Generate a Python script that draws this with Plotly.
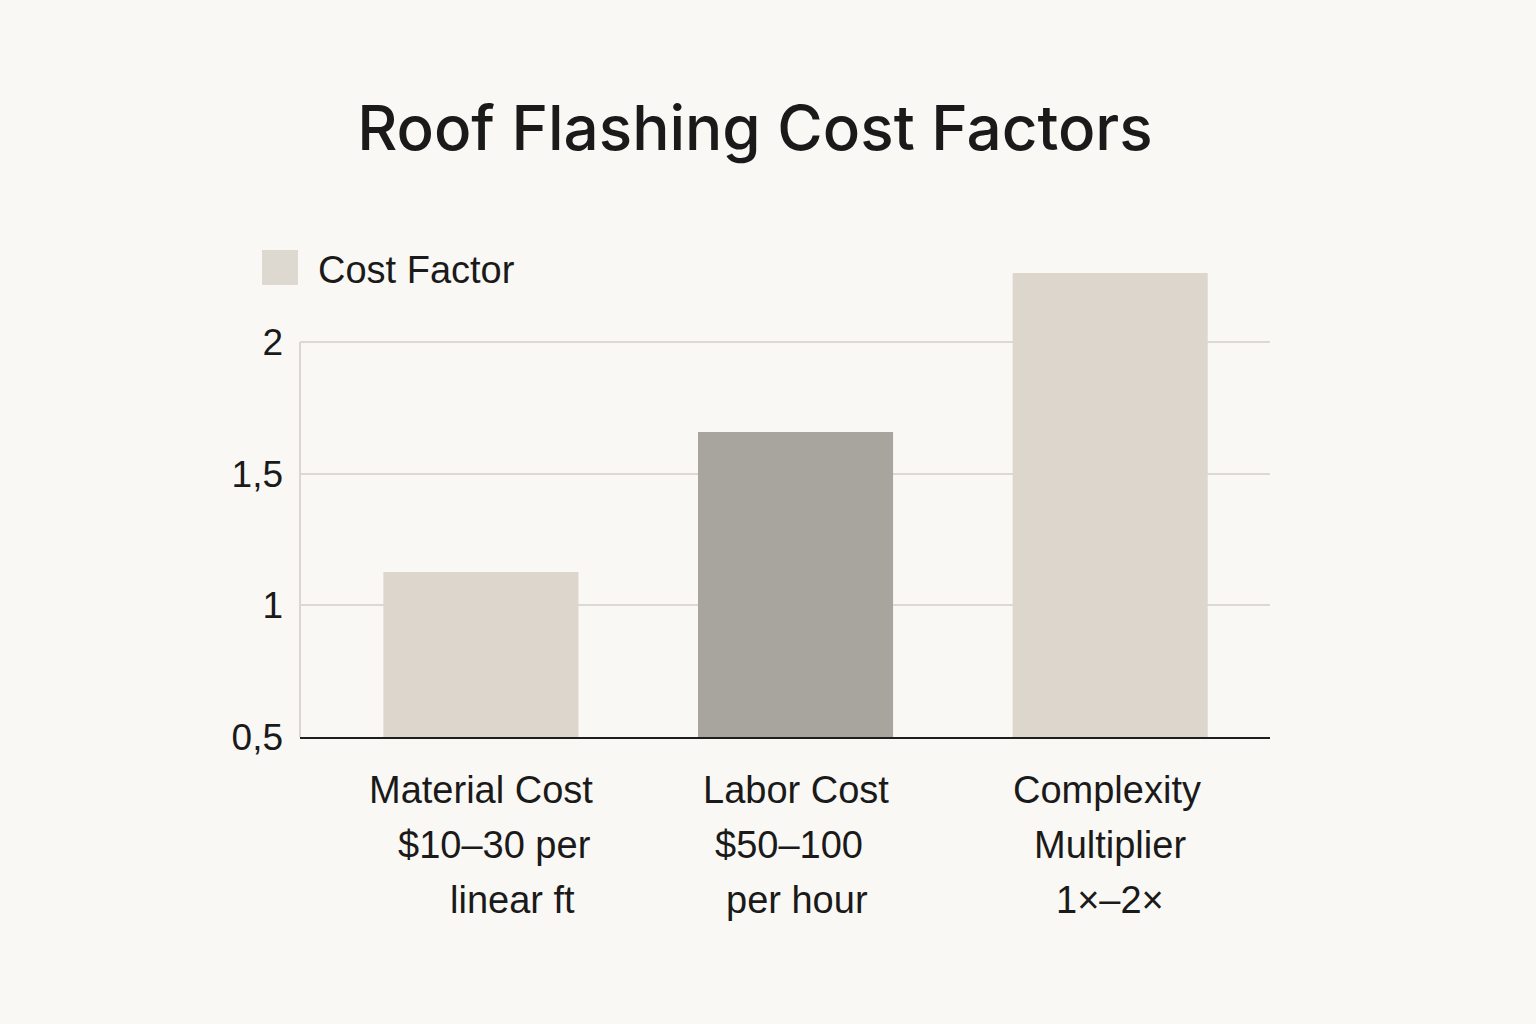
import plotly.graph_objects as go

categories = ["Material Cost", "Labor Cost", "Complexity Multiplier"]
values = [1.127, 1.658, 2.262]
label_lines = [
    ["Material Cost", "$10–30 per", "linear ft"],
    ["Labor Cost", "$50–100", "per hour"],
    ["Complexity", "Multiplier", "1×–2×"],
]
bar_colors = ["#DCD6CD", "#A8A49E", "#DCD6CD"]
y_ticks = [0.5, 1, 1.5, 2]
title_text = "Roof Flashing Cost Factors"
legend_text = "Cost Factor"

BG = "#FAF8F4"
TXT = "#1A1A1A"
FONT = "Liberation Sans, Arial, sans-serif"

# per-line horizontal nudges for the category labels (styling only)
line_xshift = [[0, 14, 32], [0, -7, 1], [-3, 0, 0]]
line_offsets = [-53, -108, -163]

x_idx = list(range(len(categories)))

fig = go.Figure()
fig.add_trace(go.Bar(
    x=x_idx, y=values,
    marker=dict(color=bar_colors, line=dict(width=0)),
    width=0.62, name=legend_text, showlegend=False,
    hoverinfo="skip",
))

fig.update_layout(
    width=1536, height=1024,
    paper_bgcolor=BG, plot_bgcolor=BG,
    margin=dict(l=300, r=266, t=263, b=287),
    separators=", ",
    font=dict(family=FONT, color=TXT, size=37),
    title=dict(text=title_text, x=0.4915, xanchor="center",
               y=1 - 128 / 1024, yanchor="middle", yref="container",
               font=dict(family="Inter, Liberation Sans, sans-serif", size=62,
                         color=TXT, weight=500)),
    xaxis=dict(range=[-0.575, 2.508], tickvals=x_idx, showticklabels=False,
               showgrid=False, zeroline=False, showline=True,
               linecolor="#1E1E1E", linewidth=2, fixedrange=True),
    yaxis=dict(range=[0.5, 2.3], tickvals=y_ticks, showgrid=True,
               gridcolor="#DCD8D2", gridwidth=1.5, zeroline=False,
               showline=False, ticks="", ticklabelstandoff=16,
               tickfont=dict(size=37, color=TXT), fixedrange=True),
)

# vertical axis line from bottom to top gridline
fig.add_shape(type="line", xref="paper", yref="y", x0=0, x1=0,
              y0=y_ticks[0], y1=y_ticks[-1],
              line=dict(color="#CFCBC5", width=1.5), layer="below")

# legend swatch + text
fig.add_shape(type="rect", xref="paper", yref="paper",
              x0=(262 - 300) / 970, x1=(298 - 300) / 970,
              y0=(737 - 285) / 474, y1=(737 - 250) / 474,
              fillcolor="#DDD8D0", line=dict(width=0))
fig.add_annotation(text=legend_text, xref="paper", yref="paper",
                   x=(316 - 300) / 970, y=(737 - 270) / 474,
                   xanchor="left", yanchor="middle", showarrow=False,
                   font=dict(size=38, color=TXT, family=FONT))

# multi-line category labels
for xi, lines, shifts in zip(x_idx, label_lines, line_xshift):
    for ln, off, sx in zip(lines, line_offsets, shifts):
        fig.add_annotation(text=ln, x=xi, xref="x", y=0, yref="paper",
                           yshift=off, xshift=sx, xanchor="center",
                           yanchor="middle", showarrow=False,
                           font=dict(size=38, color=TXT, family=FONT))

fig.write_html("out.html")
